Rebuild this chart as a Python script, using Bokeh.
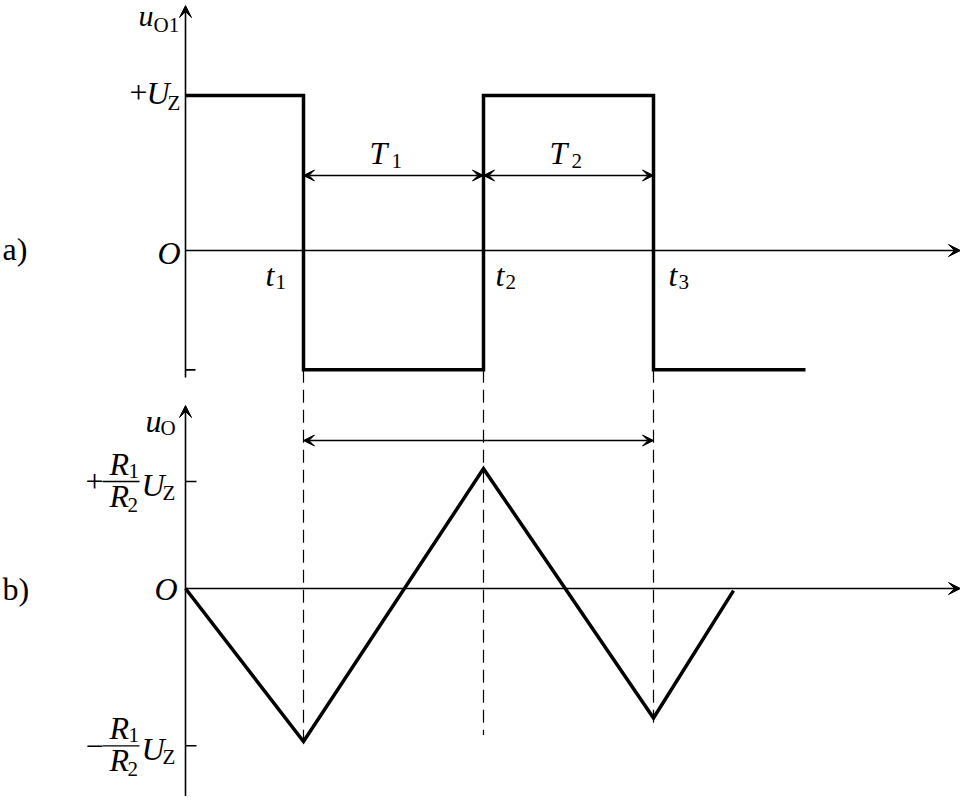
from bokeh.plotting import figure
from bokeh.models import Range1d, Label, Arrow, VeeHead
from bokeh.embed import file_html
from bokeh.resources import INLINE

# ---------------- data ----------------
switch_times = [1.18, 2.98, 4.68]          # t1, t2, t3
switch_names = ["1", "2", "3"]
square_end = 6.20
uo1_high = 1.0                              # +U_Z
uo1_low = -0.77                             # lower level (as drawn)
tri_times = [0.0, 1.18, 2.98, 4.68, 5.48]
tri_values = [0.0, -1.43, 1.12, -1.21, -0.02]
uo_ticks = [1.0, -1.47]                     # +R1/R2 Uz, -R1/R2 Uz
uo_tick_signs = ["+", "\u2212"]
dash_bottoms = [-1.43, -1.37, -1.30]
period_names = ["1", "2"]

# ---------------- layout ----------------
W, H = 960, 796
PX_T = 100.0          # px per time unit
ORG_X = 185.0         # screen x of time origin
PX_A, ZERO_A = 155.0, 250.0
PX_B, ZERO_B = 107.0, 588.0
TOP = 0.0

x0 = -(ORG_X - TOP) / PX_T
a_end = (ZERO_A - TOP) / PX_A
b_end = (ZERO_B - TOP) / PX_B

p = figure(width=W, height=H, output_backend="svg", toolbar_location=None,
           x_range=Range1d(x0, x0 + W / PX_T),
           y_range=Range1d(a_end - H / PX_A, a_end),
           x_axis_location=None, y_axis_location=None,
           min_border=0, outline_line_color=None)
p.extra_y_ranges = {"b": Range1d(b_end - H / PX_B, b_end)}
p.grid.visible = False
p.background_fill_color = "white"
p.border_fill_color = "white"

FONT = "Liberation Serif"
BIG = 32
SUB = 21
K_SHIFT = 0.3          # empirical baseline correction (fraction of font size)
AX_W = 1.6

def head(size=12):
    return VeeHead(size=size, line_color="black", fill_color="black", line_width=1)

def put(text, x, y, dx, dy, size=BIG, italic=False, rng="default", align="left"):
    dy_corr = dy - K_SHIFT * size
    p.add_layout(Label(x=x, y=y, x_offset=dx, y_offset=-dy_corr, text=text,
                       text_font=FONT, text_font_size=f"{size}px",
                       text_font_style="italic" if italic else "normal",
                       text_align=align, text_baseline="alphabetic",
                       text_color="black", y_range_name=rng))

# ---------------- panel a: square wave ----------------
sq_x, sq_y = [0.0], [uo1_high]
level = uo1_high
for ts in switch_times:
    other = uo1_low if level == uo1_high else uo1_high
    sq_x += [ts, ts]
    sq_y += [level, other]
    level = other
sq_x.append(square_end)
sq_y.append(level)

a_top = 1.58
a_bottom = uo1_low - 0.05
x_tip = 7.75
p.add_layout(Arrow(x_start=0, y_start=a_bottom, x_end=0, y_end=a_top,
                   end=head(12), line_width=AX_W))
p.add_layout(Arrow(x_start=0, y_start=0, x_end=x_tip, y_end=0,
                   end=head(12), line_width=AX_W))
p.segment(x0=[0], y0=[uo1_low], x1=[0.10], y1=[uo1_low],
          line_color="black", line_width=AX_W)
p.line(sq_x, sq_y, line_color="black", line_width=3.5, line_join="miter")

# T1 / T2 double arrows
arrow_a = 0.484
for i in range(2):
    p.add_layout(Arrow(x_start=switch_times[i], y_start=arrow_a,
                       x_end=switch_times[i + 1], y_end=arrow_a,
                       start=head(11), end=head(11), line_width=1.3))
    mid = (switch_times[i] + switch_times[i + 1]) / 2
    dx_T = -24 if i == 0 else -19
    put("T", mid, arrow_a, dx_T, -13, italic=True)
    put(period_names[i], mid, arrow_a, dx_T + 22, -8, size=SUB)

# labels panel a
put("u", 0, a_top, -47, 19, size=30, italic=True)
put("O1", 0, a_top, -32, 26, size=SUB)
put("+", 0, uo1_high, -56, 7)
put("U", 0, uo1_high, -39, 7, italic=True)
put("Z", 0, uo1_high, -18, 14, size=SUB)
put("O", 0, 0, -5, 12, italic=True, align="right")
put("a)", 0, 0, -183, 8)
t_dx = [-38, 12, 15]
for ts, nm, dx in zip(switch_times, switch_names, t_dx):
    put("t", ts, 0, dx, 34, italic=True)
    put(nm, ts, 0, dx + 10, 38, size=SUB)

# ---------------- dashed connectors ----------------
low_screen = ZERO_A - uo1_low * PX_A
low_in_b = (ZERO_B - low_screen) / PX_B
p.segment(x0=switch_times, y0=[low_in_b] * 3, x1=switch_times, y1=dash_bottoms,
          line_color="black", line_width=1.2, line_dash="13 7", y_range_name="b")

# ---------------- panel b: triangle wave ----------------
b_top = 1.71
b_bottom = b_end - H / PX_B - 0.2
p.add_layout(Arrow(x_start=0, y_start=b_bottom, x_end=0, y_end=b_top,
                   end=head(12), line_width=AX_W, y_range_name="b"))
p.add_layout(Arrow(x_start=0, y_start=0, x_end=x_tip, y_end=0,
                   end=head(12), line_width=AX_W, y_range_name="b"))
p.segment(x0=[0, 0], y0=uo_ticks, x1=[0.11, 0.11], y1=uo_ticks,
          line_color="black", line_width=AX_W, y_range_name="b")
p.line(tri_times, tri_values, line_color="black", line_width=3.5,
       line_join="miter", y_range_name="b")

arrow_b = 1.383
p.add_layout(Arrow(x_start=switch_times[0], y_start=arrow_b,
                   x_end=switch_times[2], y_end=arrow_b,
                   start=head(11), end=head(11), line_width=1.3, y_range_name="b"))

# labels panel b
put("u", 0, b_top, -40, 25, italic=True, rng="b")
put("O", 0, b_top, -25, 29, size=SUB, rng="b")
put("b)", 0, 0, -183, 10, rng="b")
put("O", 0, 0, -8, 10, italic=True, align="right", rng="b")
for tv, sg in zip(uo_ticks, uo_tick_signs):
    put(sg, 0, tv, -100, 10, rng="b")
    put("R", 0, tv, -76, -8, italic=True, rng="b")
    put("1", 0, tv, -57, -4, size=SUB, rng="b")
    put("R", 0, tv, -76, 24, italic=True, rng="b")
    put("2", 0, tv, -58, 30, size=SUB, rng="b")
    put("U", 0, tv, -44, 13, italic=True, rng="b")
    put("Z", 0, tv, -23, 18, size=SUB, rng="b")
    p.segment(x0=[-0.83], y0=[tv], x1=[-0.46], y1=[tv],
              line_color="black", line_width=1.3, y_range_name="b")

open("out.html", "w").write(file_html(p, INLINE))
